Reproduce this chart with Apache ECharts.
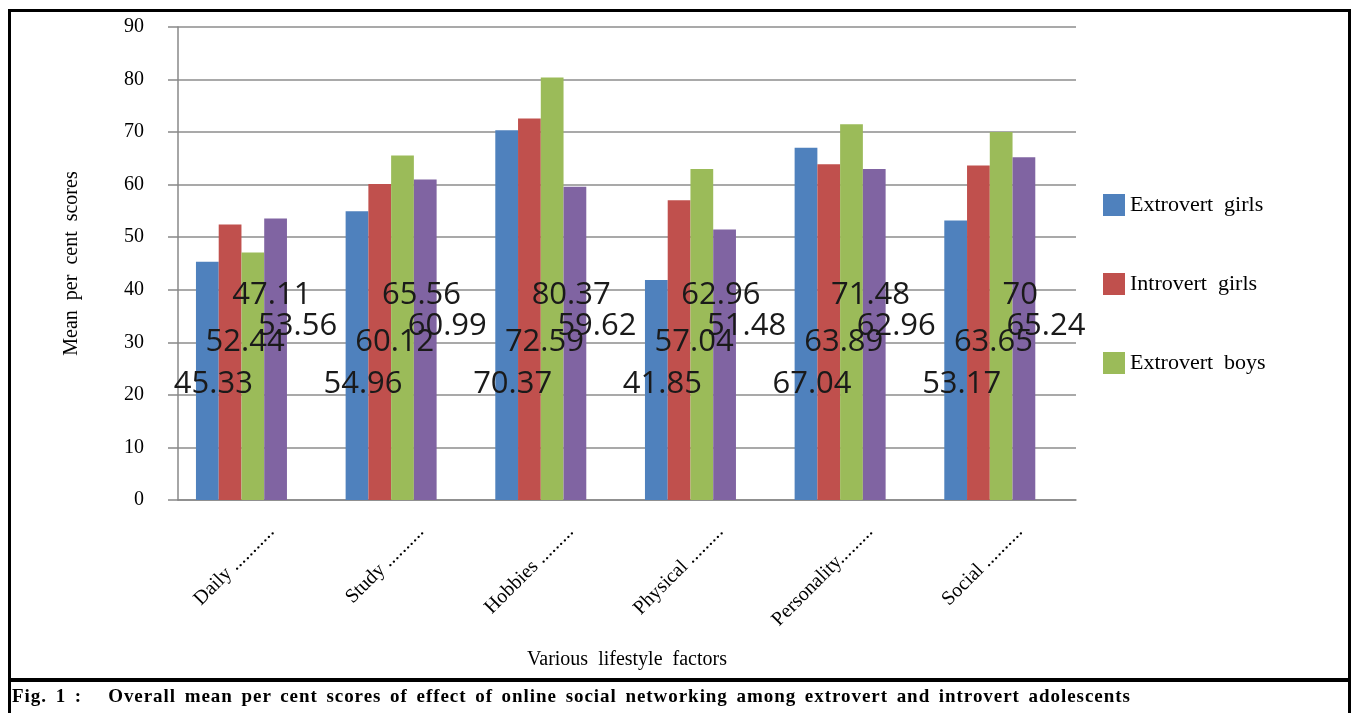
<!DOCTYPE html>
<html>
<head>
<meta charset="utf-8">
<script src="https://cdn.jsdelivr.net/npm/echarts@6/dist/echarts.min.js"></script>
<style>
  html, body { margin: 0; padding: 0; background: #fff; }
  #main { position: absolute; left: 0; top: 0; width: 1351px; height: 713px; }
  .frame { position: absolute; left: 8px; top: 9px; width: 1337px; height: 666px;
    border: 3px solid #000; border-bottom-width: 4px; pointer-events: none; }
  .capbox { position: absolute; left: 8px; top: 680px; width: 1337px; height: 40px;
    border-left: 3px solid #000; border-right: 3px solid #000; }
  .caption { position: absolute; left: 12px; top: 685px; white-space: pre;
    font: bold 19px "Liberation Serif", serif; letter-spacing: 0.95px; word-spacing: 3px; color: #000; }
</style>
</head>
<body>
<div id="main"></div>
<div class="frame"></div>
<div class="capbox"></div>
<div class="caption">Fig. 1 :   Overall mean per cent scores of effect of online social networking among extrovert and introvert adolescents</div>
<script>
// lifestyle factors (x axis)
const categories = ['Daily ...........', 'Study ..........', 'Hobbies .........', 'Physical .........', 'Personality.........', 'Social ..........'];
const seriesNames = ['Extrovert girls', 'Introvert girls', 'Extrovert boys', 'Introvert boys'];
// mean per cent scores
const extrovertGirls = [45.33, 54.96, 70.37, 41.85, 67.04, 53.17];
const introvertGirls = [52.44, 60.12, 72.59, 57.04, 63.89, 63.65];
const extrovertBoys = [47.11, 65.56, 80.37, 62.96, 71.48, 70];
const introvertBoys = [53.56, 60.99, 59.62, 51.48, 62.96, 65.24];
const yTicks = [0, 10, 20, 30, 40, 50, 60, 70, 80, 90];

const colors = ['#4F81BD', '#C0504D', '#9BBB59', '#8064A2'];
const values = [extrovertGirls, introvertGirls, extrovertBoys, introvertBoys];
// label offsets per series (labels in the original sit oddly inside the bars)
const labelOffsets = [[6, -95], [15, -137], [19, -184], [22, -153]];

const serif = '"Liberation Serif", "Times New Roman", serif';
const myChart = echarts.init(document.getElementById('main'));

const barSeries = values.map((arr, i) => ({
  name: seriesNames[i],
  type: 'bar',
  data: arr,
  barGap: '0%',
  barCategoryGap: '24%',
  label: {
    show: true,
    position: 'insideBottom',
    offset: labelOffsets[i],
    fontFamily: '"Open Sans", sans-serif',
    fontSize: 31,
    color: '#1a1a1a'
  }
}));
// the original reserves an empty fifth slot in each group, so bars sit left of centre
barSeries.push({ name: 'empty', type: 'bar', data: [], barGap: '0%', barCategoryGap: '24%' });

const option = {
  animation: false,
  color: colors,
  grid: { left: 178, right: 275, top: 27, bottom: 213 },
  legend: {
    data: seriesNames.slice(0, 3), // 4th entry is cut off in the original
    orient: 'vertical',
    left: 1098,
    top: 189,
    itemWidth: 22,
    itemHeight: 22,
    itemGap: 57,
    icon: 'rect',
    formatter: name => name.replace(' ', '  '),
    textStyle: { fontFamily: serif, fontSize: 22, color: '#000' }
  },
  xAxis: {
    type: 'category',
    data: categories,
    name: 'Various  lifestyle  factors',
    nameLocation: 'middle',
    nameGap: 150,
    nameTextStyle: { fontFamily: serif, fontSize: 20, color: '#000' },
    axisLine: { lineStyle: { color: '#888', width: 1.5 } },
    axisTick: { length: 10, lineStyle: { color: '#888', width: 1.5 } },
    axisLabel: {
      rotate: 45,
      margin: 10,
      verticalAlign: 'top',
      padding: [16, 0, 0, 0],
      fontFamily: serif,
      fontSize: 20,
      color: '#000'
    }
  },
  yAxis: {
    type: 'value',
    min: 0,
    max: 90,
    interval: 10,
    name: 'Mean  per  cent  scores',
    nameLocation: 'middle',
    nameGap: 96,
    nameTextStyle: { fontFamily: serif, fontSize: 20, color: '#000' },
    axisLine: { show: true, lineStyle: { color: '#888', width: 1.5 } },
    axisTick: { show: true, length: 10, lineStyle: { color: '#888', width: 1.5 } },
    splitLine: { lineStyle: { color: '#8c8c8c', width: 1.5 } },
    axisLabel: {
      margin: 34,
      fontFamily: serif,
      fontSize: 20,
      color: '#000',
      formatter: v => yTicks.includes(v) ? String(v) : ''
    }
  },
  series: barSeries
};

myChart.setOption(option);
</script>
</body>
</html>
